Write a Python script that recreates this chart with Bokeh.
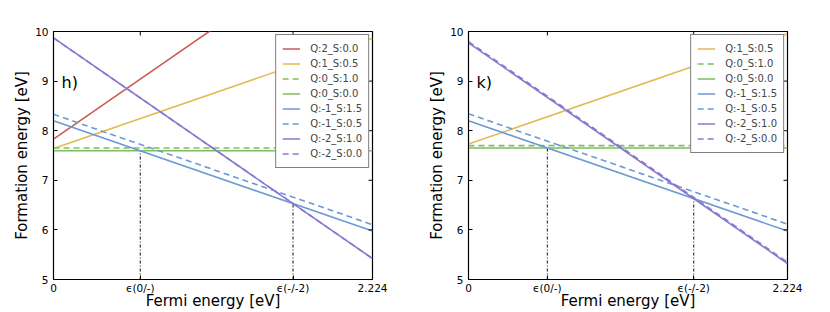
import math
from bokeh.plotting import figure
from bokeh.layouts import row
from bokeh.models import FixedTicker, Legend, LegendItem, Range1d
from bokeh.core.properties import value
from bokeh.embed import file_html
from bokeh.resources import INLINE

# ---------------- data ----------------
X_MAX = 2.224

labels_h = ["Q:2_S:0.0", "Q:1_S:0.5", "Q:0_S:1.0", "Q:0_S:0.0",
            "Q:-1_S:1.5", "Q:-1_S:0.5", "Q:-2_S:1.0", "Q:-2_S:0.0"]
charges_h = [2, 1, 0, 0, -1, -1, -2, -2]
e0_h = [7.83, 7.64, 7.65, 7.595, 8.20, 8.33, 9.87, 9.87]
dashed_h = [False, False, True, False, False, True, False, True]
colors_h = ["#CC5A55", "#E2BA55", "#7DBE5E", "#7DBE5E",
            "#6C9AD3", "#6C9AD3", "#8A78D0", "#8A78D0"]
levels_h = [0.605, 1.67]
level_labels_h = ["ϵ(0/-)", "ϵ(-/-2)"]

labels_k = ["Q:1_S:0.5", "Q:0_S:1.0", "Q:0_S:0.0",
            "Q:-1_S:1.5", "Q:-1_S:0.5", "Q:-2_S:1.0", "Q:-2_S:0.0"]
charges_k = [1, 0, 0, -1, -1, -2, -2]
e0_k = [7.73, 7.70, 7.65, 8.20, 8.34, 9.77, 9.795]
dashed_k = [False, True, False, False, True, False, True]
colors_k = ["#E2BA55", "#7DBE5E", "#7DBE5E",
            "#6C9AD3", "#6C9AD3", "#8A78D0", "#8A78D0"]
levels_k = [0.55, 1.57]
level_labels_k = ["ϵ(0/-)", "ϵ(-/-2)"]

y_ticks = [5, 6, 7, 8, 9, 10]
FONT = "DejaVu Sans"


def make_panel(tag, labels, charges, e0, dashed, colors, levels, level_labels,
               width, border_right):
    p = figure(width=width, height=312, output_backend="svg", toolbar_location=None,
               x_range=Range1d(0, X_MAX), y_range=Range1d(5, 10),
               min_border_left=53, min_border_right=border_right,
               min_border_top=31, min_border_bottom=20)
    p.xgrid.visible = False
    p.ygrid.visible = False
    p.outline_line_color = "black"
    p.outline_line_width = 1.2
    p.background_fill_color = "white"
    p.border_fill_color = "white"

    xticks = [0] + list(levels) + [X_MAX]
    overrides = {0: "0", X_MAX: "2.224"}
    for lv, lab in zip(levels, level_labels):
        overrides[lv] = lab

    # transition-level dotted lines up to the lowest line
    for lv in levels:
        ymin = min(b + q * lv for b, q in zip(e0, charges))
        p.segment(x0=[lv], y0=[5], x1=[lv], y1=[ymin], line_color="#333333",
                  line_width=1.2, line_dash="3 2 1 2")

    items = []
    for lab, q, b, d, c in zip(labels, charges, e0, dashed, colors):
        xs = [0, X_MAX]
        ys = [b + q * x for x in xs]
        r = p.line(xs, ys, line_color=c, line_width=1.6,
                   line_dash="6 4" if d else "solid")
        items.append(LegendItem(label=lab, renderers=[r]))

    # mirrored inward ticks on top and right edges
    p.ray(x=xticks, y=[10] * len(xticks), angle=-math.pi / 2, length=4,
          length_units="screen", line_color="black", line_width=1)
    p.ray(x=[X_MAX] * len(y_ticks), y=y_ticks, angle=math.pi, length=4,
          length_units="screen", line_color="black", line_width=1)

    p.text(x=[0.056], y=[8.98], text=[tag + ")"], text_font=value(FONT),
           text_font_size="16px", text_baseline="middle", text_align="left")

    leg = Legend(items=items, location="top_right", margin=3, padding=6, spacing=0,
                 label_text_font=FONT, label_text_font_size="10px",
                 label_height=15, glyph_height=15, glyph_width=18, label_standoff=10,
                 border_line_color="black", border_line_width=1,
                 background_fill_alpha=1.0)
    p.add_layout(leg, "center")

    ax = p.xaxis[0]
    ax.ticker = FixedTicker(ticks=xticks)
    ax.major_label_overrides = overrides
    ax.axis_label = "Fermi energy [eV]"
    ay = p.yaxis[0]
    ay.ticker = FixedTicker(ticks=y_ticks)
    ay.axis_label = "Formation energy [eV]"
    for a in (ax, ay):
        a.major_tick_in = 4
        a.major_tick_out = 0
        a.minor_tick_in = 0
        a.minor_tick_out = 0
        a.axis_line_color = "black"
        a.major_tick_line_color = "black"
        a.major_label_text_font = FONT
        a.major_label_text_font_size = "10.5px"
        a.major_label_text_color = "black"
        a.axis_label_text_font = FONT
        a.axis_label_text_font_style = "normal"
        a.axis_label_text_color = "black"
        a.axis_label_text_font_size = "15px"
    ax.major_label_standoff = 2
    ax.axis_label_standoff = -5
    ay.major_label_standoff = 5
    ay.axis_label_standoff = 1
    return p


p1 = make_panel("h", labels_h, charges_h, e0_h, dashed_h, colors_h, levels_h,
                level_labels_h, 415, 43)
p2 = make_panel("k", labels_k, charges_k, e0_k, dashed_k, colors_k, levels_k,
                level_labels_k, 399, 27)

layout = row(p1, p2)
open("out.html", "w").write(file_html(layout, INLINE))
